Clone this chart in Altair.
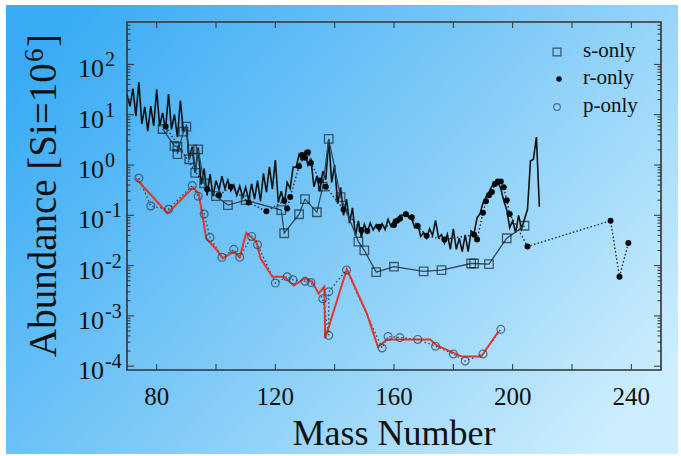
import altair as alt
import pandas as pd

# ---------------- data ----------------
mass_all = list(range(70, 210))
abund_all = [25, 14.7, 33, 9.4, 44, 6.6, 14.4, 4.7, 14.8, 6.0,
             31.8, 5.9, 10.9, 5.2, 25.7, 5.1, 10.1, 3.6, 19.2, 4.64,
             5.85, 1.28, 2.33, 0.70, 2.22, 0.41, 0.85, 0.25, 0.66, 0.24,
             0.49, 0.32, 0.60, 0.34, 0.50, 0.31, 0.40, 0.25, 0.38, 0.23,
             0.36, 0.20, 0.42, 0.21, 0.49, 0.19, 0.68, 0.29, 0.92, 0.33,
             1.25, 0.18, 0.30, 0.17, 0.45, 0.34, 0.91, 0.90, 1.62, 1.24,
             1.83, 0.99, 1.27, 0.37, 0.60, 0.30, 0.76, 0.51, 3.2, 0.45,
             1.0, 0.17, 0.36, 0.10, 0.21, 0.07, 0.14, 0.039, 0.077, 0.036,
             0.066, 0.046, 0.070, 0.051, 0.065, 0.049, 0.068, 0.052, 0.083, 0.060,
             0.081, 0.075, 0.10, 0.10, 0.115, 0.089, 0.084, 0.057, 0.067, 0.038,
             0.045, 0.035, 0.054, 0.040, 0.079, 0.036, 0.041, 0.028, 0.042, 0.021,
             0.054, 0.021, 0.035, 0.019, 0.041, 0.019, 0.049, 0.044, 0.089, 0.108,
             0.177, 0.23, 0.29, 0.38, 0.44, 0.45, 0.34, 0.195, 0.13, 0.057,
             0.078, 0.045, 0.10, 0.054, 0.084, 0.13, 1.2, 1.3, 3.6, 0.148]

s_mass = [82, 86, 87, 87, 89, 90, 91, 92, 93, 94, 96, 100, 104, 110, 122, 123,
          128, 130, 134, 136, 138, 142, 148, 150, 154, 160, 170, 176, 186, 187,
          192, 198, 204]
s_abund = [5.2, 2.4, 2.3, 1.65, 4.6, 5.8, 1.3, 2.05, 0.70, 2.05, 0.43, 0.24, 0.16,
           0.20, 0.127, 0.044, 0.105, 0.21, 0.115, 0.37, 3.3, 0.23, 0.030, 0.020,
           0.0074, 0.0095, 0.0077, 0.0081, 0.011, 0.011, 0.0107, 0.035, 0.062]

r_mass = [83, 97, 101, 105, 111, 117, 123, 124, 125, 128, 129, 130, 131, 132,
          135, 137, 143, 149, 151, 155, 160, 161, 162, 164, 166, 168, 171, 177,
          187, 188, 190, 191, 192, 193, 194, 195, 196, 197, 198, 199, 205,
          233, 236, 239]
r_abund = [5.8, 0.33, 0.25, 0.37, 0.18, 0.12, 0.195, 0.137, 0.23, 0.95, 1.58, 1.4,
           1.79, 1.1, 0.49, 0.37, 0.13, 0.051, 0.049, 0.059, 0.064, 0.078, 0.085,
           0.105, 0.091, 0.061, 0.039, 0.033, 0.041, 0.033, 0.113, 0.19, 0.25,
           0.29, 0.42, 0.47, 0.47, 0.36, 0.20, 0.106, 0.024, 0.078, 0.006, 0.028]

p_mass = [74, 78, 84, 92, 94, 96, 98, 102, 106, 108, 112, 114, 120, 124, 126,
          130, 132, 136, 138, 138, 144, 156, 158, 162, 168, 174, 180, 184, 190, 196]
p_abund = [0.55, 0.153, 0.132, 0.39, 0.24, 0.106, 0.036, 0.0146, 0.021, 0.0146,
           0.038, 0.026, 0.0045, 0.0060, 0.0052, 0.0049, 0.0046, 0.0022, 0.00041,
           0.0030, 0.0082, 0.00023, 0.00039, 0.00037, 0.00034, 0.00025, 0.000175,
           0.000127, 0.000175, 0.00054]

model_mass = [73, 83.7, 92.3, 94.2, 96.7, 100.4, 102.3, 106, 108, 110.2, 113.6,
              115, 119, 123, 126.2, 130.1, 132.4, 134.6, 136.5, 136.8, 144.1,
              150.9, 154.6, 157.6, 172.2, 174.4, 182.9, 189.4, 195.2]
model_abund = [0.54, 0.11, 0.36, 0.27, 0.035, 0.020, 0.014, 0.019, 0.0146, 0.045,
               0.030, 0.014, 0.006, 0.006, 0.004, 0.0056, 0.0048, 0.0028, 0.0038,
               0.00036, 0.0085, 0.0011, 0.00024, 0.00034, 0.00034, 0.00026,
               0.000155, 0.000155, 0.00049]

x_tick_vals = [80, 100, 120, 140, 160, 180, 200, 220, 240]
x_label_vals = [80, 120, 160, 200, 240]
y_major = [1e-4, 1e-3, 1e-2, 1e-1, 1, 10, 100]
y_exponents = ["-4", "-3", "-2", "-1", "0", "1", "2"]
y_minor = [m * 10.0 ** k for k in range(-4, 3) for m in range(2, 10) if m * 10.0 ** k < 690]

legend_labels = ["s-only", "r-only", "p-only"]
y_title_main = "Abundance [Si=10"
y_title_exp = "6"
y_title_close = "]"

# ---------------- styling ----------------
W, H = 534, 348
FONT = "Liberation Serif"
FRAME = "#333333"
TXT = "#111111"
xs = alt.Scale(domain=[70, 250], nice=False, zero=False)
ys = alt.Scale(type="log", domain=[8.4e-5, 697], nice=False)

one = pd.DataFrame({"k": [0]})

bg = alt.Chart(one).mark_rect(
    color=alt.LinearGradient(
        gradient="linear",
        stops=[alt.GradientStop(color="#3aacf5", offset=0),
               alt.GradientStop(color="#80caf7", offset=0.5),
               alt.GradientStop(color="#cdeefd", offset=1)],
        x1=0, y1=0.2, x2=1, y2=0.8)
).encode(x=alt.value(-121), x2=alt.value(551), y=alt.value(-17), y2=alt.value(432))

df_all = pd.DataFrame({"A": mass_all, "v": abund_all})
df_s = pd.DataFrame({"A": s_mass, "v": s_abund, "i": range(len(s_mass))})
df_r = pd.DataFrame({"A": r_mass, "v": r_abund, "i": range(len(r_mass))})
df_p = pd.DataFrame({"A": p_mass, "v": p_abund, "i": range(len(p_mass))})
df_m = pd.DataFrame({"A": model_mass, "v": model_abund, "i": range(len(model_mass))})

def xy(df_chart):
    return df_chart.encode(
        x=alt.X("A:Q", scale=xs, axis=None),
        y=alt.Y("v:Q", scale=ys, axis=None),
    )

solar = xy(alt.Chart(df_all).mark_line(color="#111111", strokeWidth=1.6))
s_line = xy(alt.Chart(df_s).mark_line(color="#2d4a5c", strokeWidth=1.3)).encode(order="i:Q")
r_line = xy(alt.Chart(df_r).mark_line(color="#1a2a38", strokeWidth=1.4, strokeDash=[1.5, 2.2])).encode(order="i:Q")
p_line = xy(alt.Chart(df_p).mark_line(color="#2a3f52", strokeWidth=1.3, strokeDash=[1.5, 2.5])).encode(order="i:Q")
m_line = xy(alt.Chart(df_m).mark_line(color="#e8352b", strokeWidth=2)).encode(order="i:Q")

s_pts = xy(alt.Chart(df_s).mark_point(shape="square", filled=False, size=72,
                                      color="#18242f", strokeWidth=1.3))
r_pts = xy(alt.Chart(df_r).mark_circle(size=36, color="#080808", opacity=1))
p_pts = xy(alt.Chart(df_p).mark_point(shape="circle", filled=False, size=62,
                                      color="#2a4257", strokeWidth=1.2))

# ticks (inward, on all four sides)
df_xt = pd.DataFrame({"A": x_tick_vals})
df_ymaj = pd.DataFrame({"v": y_major})
df_ymin = pd.DataFrame({"v": y_minor})

def xtick(y1, y2):
    return alt.Chart(df_xt).mark_rule(color=FRAME, strokeWidth=1).encode(
        x=alt.X("A:Q", scale=xs, axis=None), y=alt.value(y1), y2=alt.value(y2))

def ytick(df, x1, x2):
    return alt.Chart(df).mark_rule(color=FRAME, strokeWidth=1).encode(
        y=alt.Y("v:Q", scale=ys, axis=None), x=alt.value(x1), x2=alt.value(x2))

ticks = [xtick(H, H - 6), xtick(0, 6),
         ytick(df_ymaj, 0, 7), ytick(df_ymin, 0, 3.5),
         ytick(df_ymaj, W, W - 7), ytick(df_ymin, W, W - 3.5)]

frame = alt.Chart(one).mark_rect(filled=False, stroke=FRAME, strokeWidth=1.6).encode(
    x=alt.value(0), x2=alt.value(W), y=alt.value(0), y2=alt.value(H))

# tick labels
df_xl = pd.DataFrame({"A": x_label_vals, "t": [str(v) for v in x_label_vals]})
x_labels = alt.Chart(df_xl).mark_text(font=FONT, fontSize=25, color=TXT,
                                      align="center", baseline="alphabetic").encode(
    x=alt.X("A:Q", scale=xs, axis=None), y=alt.value(383), text="t:N")

df_yl = pd.DataFrame({"v": y_major, "e": y_exponents, "b": ["10"] * len(y_major)})
y_base = alt.Chart(df_yl).mark_text(font=FONT, fontSize=26, color=TXT,
                                    align="right", baseline="alphabetic", dy=13).encode(
    y=alt.Y("v:Q", scale=ys, axis=None), x=alt.value(-23), text="b:N")
y_exp = alt.Chart(df_yl).mark_text(font=FONT, fontSize=20, color=TXT,
                                   align="left", baseline="alphabetic", dy=2).encode(
    y=alt.Y("v:Q", scale=ys, axis=None), x=alt.value(-22), text="e:N")

x_title = alt.Chart(one).mark_text(font=FONT, fontSize=36, color=TXT,
                                   align="center", baseline="alphabetic",
                                   text="Mass Number").encode(
    x=alt.value(267), y=alt.value(423))

# y title drawn in three pieces so that the exponent is a true superscript
y_t1 = alt.Chart(one).mark_text(font=FONT, fontSize=39, color=TXT, align="left",
                                baseline="alphabetic", angle=270,
                                text=y_title_main).encode(
    x=alt.value(-71), y=alt.value(335))
y_t2 = alt.Chart(one).mark_text(font=FONT, fontSize=27, color=TXT, align="left",
                                baseline="alphabetic", angle=270,
                                text=y_title_exp).encode(
    x=alt.value(-84), y=alt.value(40))
y_t3 = alt.Chart(one).mark_text(font=FONT, fontSize=39, color=TXT, align="left",
                                baseline="alphabetic", angle=270,
                                text=y_title_close).encode(
    x=alt.value(-71), y=alt.value(25))

# legend (inside plot, top right)
leg_sq = alt.Chart(one).mark_point(shape="square", filled=False, size=62,
                                   color="#18242f", strokeWidth=1.2).encode(
    x=alt.value(430), y=alt.value(30))
leg_dot = alt.Chart(one).mark_circle(size=30, color="#080808", opacity=1).encode(
    x=alt.value(432), y=alt.value(57))
leg_circ = alt.Chart(one).mark_point(shape="circle", filled=False, size=45,
                                     color="#2a4257", strokeWidth=1.1).encode(
    x=alt.value(430), y=alt.value(85))
leg_text = [
    alt.Chart(one).mark_text(font=FONT, fontSize=21, color=TXT, align="left",
                             baseline="alphabetic", text=lab).encode(
        x=alt.value(456), y=alt.value(yy))
    for lab, yy in zip(legend_labels, [35, 62, 90])
]

chart = alt.layer(
    bg, solar, s_line, r_line, p_line, m_line, s_pts, r_pts, p_pts,
    *ticks, frame, x_labels, y_base, y_exp, x_title, y_t1, y_t2, y_t3,
    leg_sq, leg_dot, leg_circ, *leg_text
).properties(
    width=W, height=H, background="white",
    padding={"left": 127, "top": 22, "right": 20, "bottom": 86},
    autosize=alt.AutoSizeParams(type="none"),
).configure_view(strokeWidth=0)

chart.save("out.html", embed_options={"renderer": "svg", "actions": False})
